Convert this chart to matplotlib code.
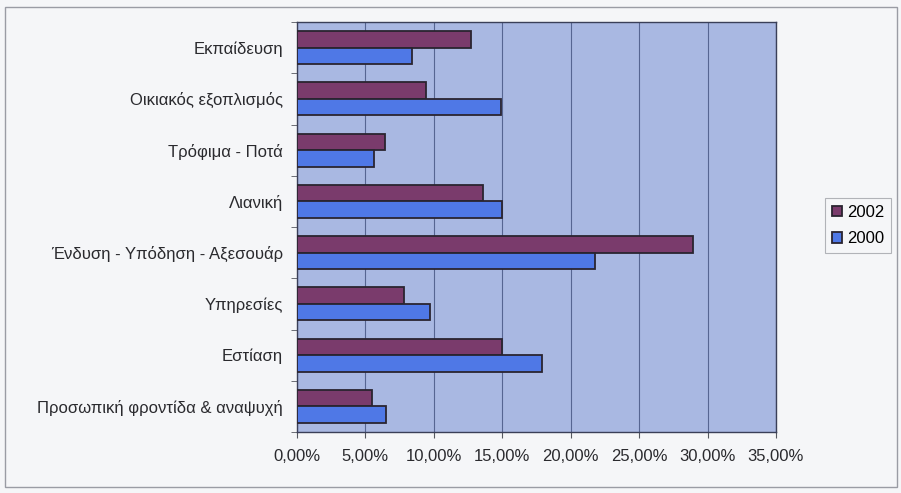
import numpy as np
import matplotlib
matplotlib.use("Agg")
import matplotlib.pyplot as plt
from matplotlib.patches import Rectangle
from matplotlib.ticker import FuncFormatter, MultipleLocator

plt.rcParams['font.family'] = ['Liberation Sans', 'DejaVu Sans']

categories = [
    "Εκπαίδευση",
    "Οικιακός εξοπλισμός",
    "Τρόφιμα - Ποτά",
    "Λιανική",
    "Ένδυση - Υπόδηση - Αξεσουάρ",
    "Υπηρεσίες",
    "Εστίαση",
    "Προσωπική φροντίδα & αναψυχή",
]
share_2002 = [12.7, 9.4, 6.4, 13.6, 28.9, 7.8, 15.0, 5.5]
share_2000 = [8.4, 14.9, 5.6, 15.0, 21.8, 9.7, 17.9, 6.5]
series_labels = ["2002", "2000"]

fig = plt.figure(figsize=(9.01, 4.93), dpi=100)
fig.patch.set_facecolor("#f5f6f8")

# outer chart frame
fig.add_artist(Rectangle((5 / 901, 6 / 493), 892 / 901, 480 / 493,
                         transform=fig.transFigure, fill=False,
                         edgecolor="#9a9ca4", linewidth=1.0))

ax = fig.add_axes([297 / 901, 1 - 432 / 493, 479 / 901, 410 / 493])
ax.set_facecolor("#a9b8e2")

n = len(categories)
y = np.arange(n)[::-1]  # first category at top
h = 0.32
c2002 = "#7a3b6c"
c2000 = "#4f78e6"
ax.barh(y + h / 2, share_2002, height=h, color=c2002, edgecolor="#2a2430",
        linewidth=1.3, label=series_labels[0], zorder=3)
ax.barh(y - h / 2, share_2000, height=h, color=c2000, edgecolor="#2a2430",
        linewidth=1.3, label=series_labels[1], zorder=3)

ax.set_xlim(0, 35)
ax.set_ylim(-0.5, n - 0.5)
ax.xaxis.set_major_locator(MultipleLocator(5))
ax.xaxis.set_major_formatter(FuncFormatter(lambda v, p: f"{v:.2f}%".replace(".", ",")))
ax.set_yticks(y)
ax.set_yticklabels(categories)
ax.set_yticks(np.arange(n + 1) - 0.5, minor=True)
ax.tick_params(axis='y', which='major', length=0, pad=10, labelsize=12, labelcolor="#2a2a2e")
ax.tick_params(axis='y', which='minor', length=4, color="#55585f", direction='out')
ax.tick_params(axis='x', length=4, color="#55585f", labelsize=12, labelcolor="#2a2a2e", pad=8)

ax.grid(axis='x', color="#3b4a78", linewidth=0.8, alpha=0.75, zorder=1)
for s in ax.spines.values():
    s.set_color("#3a3f58")
    s.set_linewidth(1.0)

handles, labels = ax.get_legend_handles_labels()
leg = fig.legend(handles, labels, loc="upper left",
                 bbox_to_anchor=(825 / 901, 1 - 198 / 493),
                 frameon=True, fontsize=12, handlelength=0.6, handleheight=0.6,
                 handletextpad=0.3, borderpad=0.4, labelspacing=0.7,
                 fancybox=False, borderaxespad=0)
leg.get_frame().set_edgecolor("#a0a2a8")
leg.get_frame().set_facecolor("#f5f6f9")
leg.get_frame().set_linewidth(0.8)

fig.savefig("out.png", dpi=100, facecolor=fig.get_facecolor())
